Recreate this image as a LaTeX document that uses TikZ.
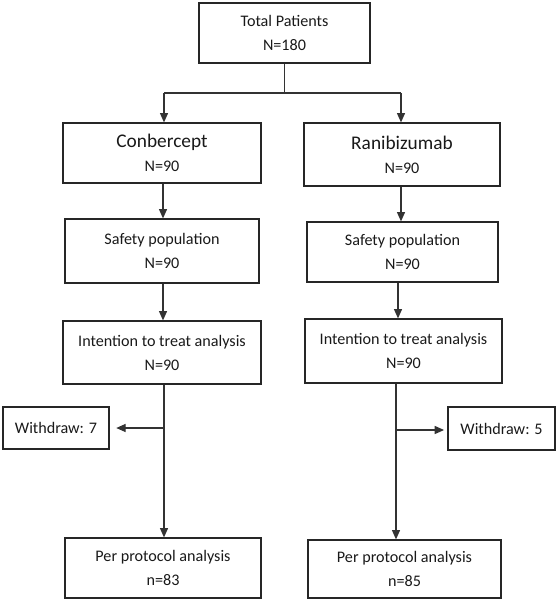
\documentclass[tikz,border=0pt]{standalone}
\usepackage{fontspec}
\setmainfont{Carlito}
\usetikzlibrary{arrows.meta}
\tikzset{
  box/.style={draw=black!85, line width=0.9pt, rectangle, inner sep=0pt, align=center,
    font=\fontsize{12.1pt}{18pt}\selectfont, text=black!90},
  conn/.style={draw=black!80, line width=0.9pt},
  arr/.style={conn, -{Triangle[length=7pt,width=6pt]}},
}
\newcommand{\bigline}[1]{{\fontsize{14.5pt}{18pt}\selectfont #1}}
\begin{document}
\begin{tikzpicture}[x=0.75pt,y=-0.75pt]
\useasboundingbox (0,0) rectangle (556,600);
% boxes
\node[box, minimum width=171*0.75pt, minimum height=60*0.75pt] (total) at (284.5,33) {Total Patients\\N=180};
\node[box, minimum width=198*0.75pt, minimum height=60*0.75pt] (con) at (162,153) {\bigline{Conbercept}\\N=90};
\node[box, minimum width=196*0.75pt, minimum height=63*0.75pt] (ran) at (402,154.5) {\bigline{Ranibizumab}\\N=90};
\node[box, minimum width=194*0.75pt, minimum height=64*0.75pt] (safeL) at (162,251) {Safety population\\N=90};
\node[box, minimum width=191*0.75pt, minimum height=60*0.75pt] (safeR) at (402.5,252) {Safety population\\N=90};
\node[box, minimum width=198*0.75pt, minimum height=63*0.75pt] (ittL) at (162,352.5) {Intention to treat analysis\\N=90};
\node[box, minimum width=197*0.75pt, minimum height=64*0.75pt] (ittR) at (403.5,351) {Intention to treat analysis\\N=90};
\node[box, minimum width=106*0.75pt, minimum height=42*0.75pt] (wdL) at (56,428) {Withdraw: 7};
\node[box, minimum width=107*0.75pt, minimum height=43*0.75pt] (wdR) at (501.5,428.5) {Withdraw: 5};
\node[box, minimum width=196*0.75pt, minimum height=60*0.75pt] (ppL) at (163,568) {Per protocol analysis\\n=83};
\node[box, minimum width=193*0.75pt, minimum height=58*0.75pt] (ppR) at (404.5,569) {Per protocol analysis\\n=85};
% coordinates
\coordinate (j) at (284.5,93);
\coordinate (jl) at (164,93);
\coordinate (jr) at (401,93);
\coordinate (lx) at (164,428);
\coordinate (rx) at (396,430);
% connectors
\draw[conn] (total.south) -- (j);
\draw[conn] (jl) -- (jr);
\draw[arr] (jl) -- (jl |- con.north);
\draw[arr] (jr) -- (jr |- ran.north);
\draw[arr] (con.south -| 163,0) -- (safeL.north -| 163,0);
\draw[arr] (ran.south -| 401,0) -- (safeR.north -| 401,0);
\draw[arr] (safeL.south -| 163,0) -- (ittL.north -| 163,0);
\draw[arr] (safeR.south -| 398,0) -- (ittR.north -| 398,0);
\draw[arr] (ittL.south -| lx) -- (ppL.north -| lx);
\draw[arr] (ittR.south -| rx) -- (ppR.north -| rx);
\draw[arr, shorten >=5pt] (lx) -- (wdL.east |- lx);
\draw[arr, shorten >=2.5pt] (rx) -- (wdR.west |- rx);
\end{tikzpicture}
\end{document}
